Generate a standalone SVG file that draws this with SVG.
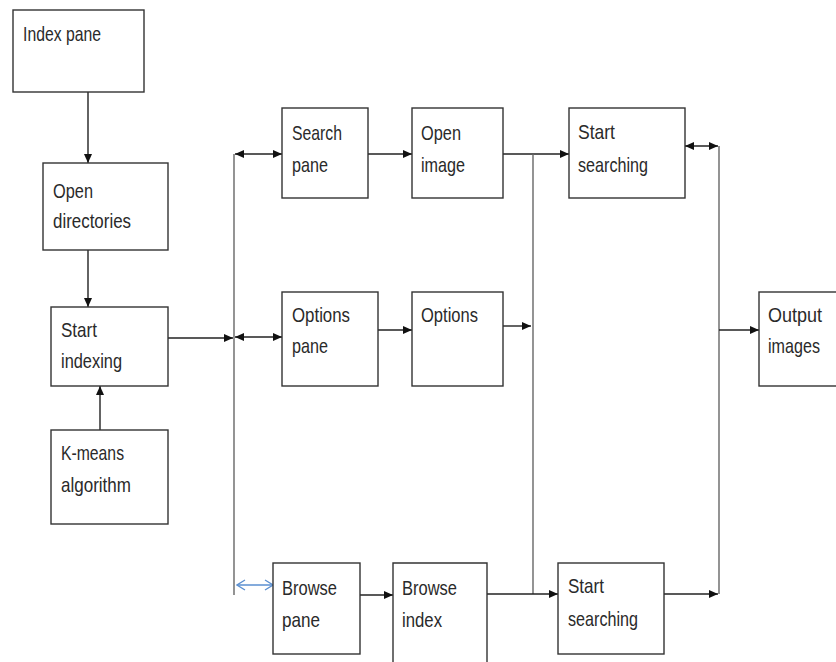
<svg xmlns="http://www.w3.org/2000/svg" width="836" height="662" viewBox="0 0 836 662">
<defs>
<style>
.box{fill:#fff;stroke:#333;stroke-width:1.4}
.t{font-family:"Liberation Sans",Arial,sans-serif;font-size:21px;fill:#2a2a2a}
.c{fill:none;stroke:#222;stroke-width:1.4}
.v{fill:none;stroke:#666;stroke-width:1.4}
.b{fill:none;stroke:#5b8fd0;stroke-width:1.3}
</style>
<marker id="ah" markerUnits="userSpaceOnUse" markerWidth="10" markerHeight="9" refX="9" refY="4.5" orient="auto-start-reverse"><path d="M0,0.5 L9,4.5 L0,8.5 z" fill="#111"/></marker>
<marker id="bh" markerUnits="userSpaceOnUse" markerWidth="10" markerHeight="12" refX="9" refY="6" orient="auto-start-reverse"><path d="M1,1 L9,6 L1,11" fill="none" stroke="#5b8fd0" stroke-width="1.3"/></marker>
</defs>
<rect width="836" height="662" fill="#fff"/>
<g id="connectors">
<line class="c" x1="88" y1="92" x2="88" y2="163" marker-end="url(#ah)"/>
<line class="c" x1="88" y1="250" x2="88" y2="307" marker-end="url(#ah)"/>
<line class="c" x1="100" y1="430" x2="100" y2="386" marker-end="url(#ah)"/>
<line class="c" x1="168" y1="338" x2="233" y2="338" marker-end="url(#ah)"/>
<line class="v" x1="234" y1="154" x2="234" y2="595"/>
<line class="c" x1="235" y1="154" x2="282" y2="154" marker-start="url(#ah)" marker-end="url(#ah)"/>
<line class="c" x1="235" y1="337" x2="282" y2="337" marker-start="url(#ah)" marker-end="url(#ah)"/>
<line class="b" x1="237" y1="585" x2="273" y2="585" marker-start="url(#bh)" marker-end="url(#bh)"/>
<line class="c" x1="368" y1="154" x2="412" y2="154" marker-end="url(#ah)"/>
<line class="c" x1="503" y1="154" x2="569" y2="154" marker-end="url(#ah)"/>
<line class="v" x1="533" y1="154" x2="533" y2="594"/>
<line class="c" x1="378" y1="330" x2="412" y2="330" marker-end="url(#ah)"/>
<line class="c" x1="503" y1="326" x2="531" y2="326" marker-end="url(#ah)"/>
<line class="c" x1="360" y1="595" x2="393" y2="595" marker-end="url(#ah)"/>
<line class="c" x1="487" y1="594" x2="558" y2="594" marker-end="url(#ah)"/>
<line class="c" x1="685" y1="146" x2="718" y2="146" marker-start="url(#ah)" marker-end="url(#ah)"/>
<line class="v" x1="719" y1="146" x2="719" y2="594"/>
<line class="c" x1="719" y1="330" x2="759" y2="330" marker-end="url(#ah)"/>
<line class="c" x1="664" y1="594" x2="718" y2="594" marker-end="url(#ah)"/>
</g>
<g id="index-pane"><rect class="box" x="13" y="10" width="131" height="82"/><text class="t" x="23" y="41" textLength="78" lengthAdjust="spacingAndGlyphs">Index pane</text></g>
<g id="open-directories"><rect class="box" x="43" y="163" width="125" height="87"/><text class="t" x="53" y="198" textLength="40" lengthAdjust="spacingAndGlyphs">Open</text><text class="t" x="53" y="228" textLength="78" lengthAdjust="spacingAndGlyphs">directories</text></g>
<g id="start-indexing"><rect class="box" x="51" y="307" width="117" height="79"/><text class="t" x="61" y="337" textLength="36" lengthAdjust="spacingAndGlyphs">Start</text><text class="t" x="61" y="368" textLength="61" lengthAdjust="spacingAndGlyphs">indexing</text></g>
<g id="k-means"><rect class="box" x="51" y="430" width="117" height="94"/><text class="t" x="61" y="460" textLength="63" lengthAdjust="spacingAndGlyphs">K-means</text><text class="t" x="61" y="492" textLength="70" lengthAdjust="spacingAndGlyphs">algorithm</text></g>
<g id="search-pane"><rect class="box" x="282" y="108" width="86" height="90"/><text class="t" x="292" y="140" textLength="50" lengthAdjust="spacingAndGlyphs">Search</text><text class="t" x="292" y="172" textLength="36" lengthAdjust="spacingAndGlyphs">pane</text></g>
<g id="open-image"><rect class="box" x="412" y="108" width="91" height="90"/><text class="t" x="421" y="140" textLength="40" lengthAdjust="spacingAndGlyphs">Open</text><text class="t" x="421" y="172" textLength="44" lengthAdjust="spacingAndGlyphs">image</text></g>
<g id="start-searching-top"><rect class="box" x="569" y="108" width="116" height="90"/><text class="t" x="578" y="139" textLength="37" lengthAdjust="spacingAndGlyphs">Start</text><text class="t" x="578" y="172" textLength="70" lengthAdjust="spacingAndGlyphs">searching</text></g>
<g id="options-pane"><rect class="box" x="282" y="292" width="96" height="94"/><text class="t" x="292" y="322" textLength="58" lengthAdjust="spacingAndGlyphs">Options</text><text class="t" x="292" y="353" textLength="36" lengthAdjust="spacingAndGlyphs">pane</text></g>
<g id="options"><rect class="box" x="412" y="292" width="91" height="94"/><text class="t" x="421" y="322" textLength="57" lengthAdjust="spacingAndGlyphs">Options</text></g>
<g id="output-images"><rect class="box" x="759" y="292" width="90" height="94"/><text class="t" x="768" y="322" textLength="54" lengthAdjust="spacingAndGlyphs">Output</text><text class="t" x="768" y="353" textLength="52" lengthAdjust="spacingAndGlyphs">images</text></g>
<g id="browse-pane"><rect class="box" x="273" y="563" width="87" height="91"/><text class="t" x="282" y="595" textLength="55" lengthAdjust="spacingAndGlyphs">Browse</text><text class="t" x="282" y="627" textLength="38" lengthAdjust="spacingAndGlyphs">pane</text></g>
<g id="browse-index"><path class="box" d="M393,672 V563 H487 V672"/><text class="t" x="402" y="595" textLength="55" lengthAdjust="spacingAndGlyphs">Browse</text><text class="t" x="402" y="627" textLength="40" lengthAdjust="spacingAndGlyphs">index</text></g>
<g id="start-searching-bottom"><rect class="box" x="558" y="563" width="106" height="91"/><text class="t" x="568" y="593" textLength="36" lengthAdjust="spacingAndGlyphs">Start</text><text class="t" x="568" y="626" textLength="70" lengthAdjust="spacingAndGlyphs">searching</text></g>
</svg>
